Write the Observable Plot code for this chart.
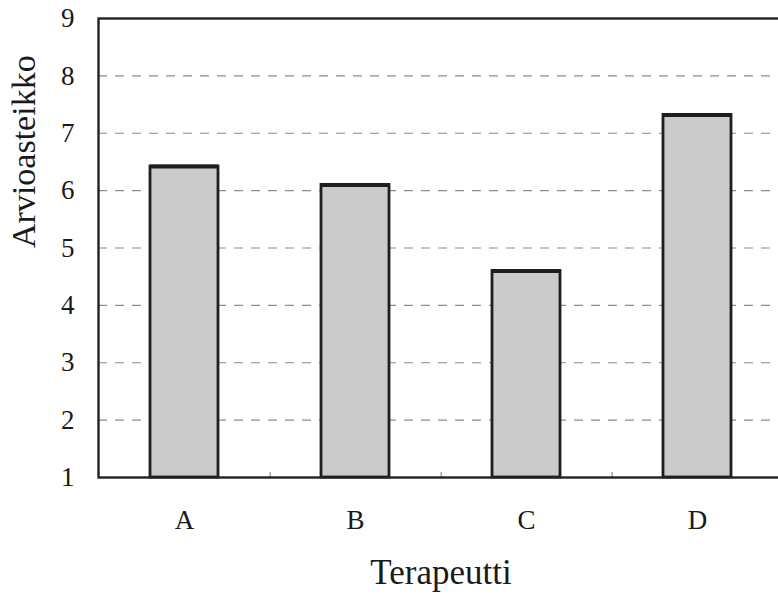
<!DOCTYPE html>
<html>
<head>
<meta charset="utf-8">
<script src="https://cdn.jsdelivr.net/npm/d3@7"></script>
<script src="https://cdn.jsdelivr.net/npm/@observablehq/plot@0.6"></script>
<style>
  html, body { margin: 0; padding: 0; background: #fff; overflow: hidden; width: 778px; height: 598px; }
  #chart { width: 778px; height: 598px; overflow: hidden; }
  #chart svg { display: block; max-width: none !important; width: 800px; height: 598px; }
</style>
</head>
<body>
<div id="chart"></div>
<script>
const categories = ["A", "B", "C", "D"];
const values = [6.42, 6.10, 4.60, 7.32];
const yTicks = [1, 2, 3, 4, 5, 6, 7, 8, 9];
const gridLevels = [2, 3, 4, 5, 6, 7, 8];
const xTitle = "Terapeutti";
const yTitle = "Arvioasteikko";

const data = categories.map((c, i) => ({cat: c, value: values[i]}));

const W = 800, H = 598;
const mL = 98, mR = 17, mT = 18, mB = 121;
const step = (W - mL - mR) / categories.length;
const font = "'Liberation Serif', 'Times New Roman', serif";

const chart = Plot.plot({
  width: W,
  height: H,
  marginLeft: mL,
  marginRight: mR,
  marginTop: mT,
  marginBottom: mB,
  style: {fontFamily: font, background: "#fff", color: "#222", maxWidth: "none"},
  x: {domain: categories, paddingInner: 0.6, paddingOuter: 0.3, axis: null},
  y: {domain: [1, 9], axis: null},
  marks: [
    Plot.ruleY(gridLevels, {stroke: "#8c8c8c", strokeWidth: 1.2, strokeDasharray: "9,8"}),
    Plot.barY(data, {x: "cat", y1: 1, y2: "value", fill: "#cbcbcb", stroke: "#1e1e1e", strokeWidth: 2.8}),
    Plot.tickY(data, {x: "cat", y: "value", stroke: "#1e1e1e", strokeWidth: 4}),
    Plot.ruleX(categories.slice(0, -1), {x: d => d, y1: 1, y2: 1.09, dx: step / 2, stroke: "#777", strokeWidth: 1}),
    Plot.frame({stroke: "#222", strokeWidth: 2.4}),
    Plot.text(yTicks, {y: d => d, text: d => String(d), frameAnchor: "left", dx: -24, textAnchor: "end", fontSize: 27, fill: "#1a1a1a", fontFamily: font}),
    Plot.text(categories, {x: d => d, text: d => d, frameAnchor: "bottom", dy: 51, fontSize: 27, fill: "#1a1a1a", fontFamily: font}),
    Plot.text([yTitle], {frameAnchor: "left", dx: -74, rotate: -90, text: d => d, fontSize: 34, fill: "#1a1a1a", fontFamily: font}),
    Plot.text([xTitle], {frameAnchor: "bottom", dy: 106, text: d => d, fontSize: 35, fill: "#1a1a1a", fontFamily: font})
  ]
});
document.getElementById("chart").append(chart);
</script>
</body>
</html>
